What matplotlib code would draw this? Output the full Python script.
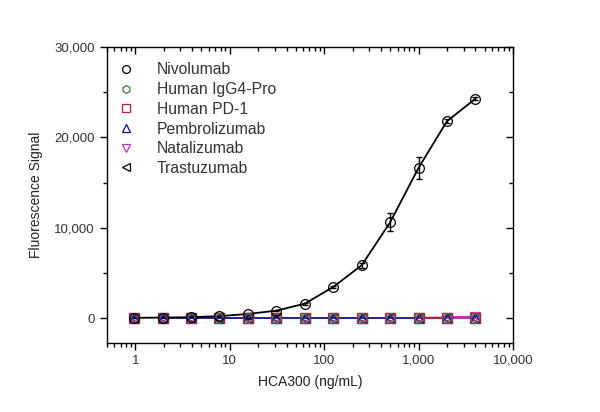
import matplotlib
matplotlib.use("Agg")
import matplotlib.pyplot as plt
from matplotlib.ticker import FuncFormatter, MultipleLocator, LogLocator, NullFormatter
import numpy as np

plt.rcParams["font.family"] = ["Liberation Sans", "DejaVu Sans"]

# concentrations (ng/mL), two-fold dilution series
conc = [0.98, 1.95, 3.9, 7.8, 15.6, 31.25, 62.5, 125, 250, 500, 1000, 2000, 4000]

nivolumab = [30, 60, 110, 220, 460, 830, 1600, 3450, 5850, 10600, 16630, 21790, 24270]
nivolumab_err = [20, 20, 30, 40, 60, 80, 120, 150, 250, 1000, 1200, 200, 150]
igg4_pro = [0, 0, 0, 0, 0, 0, 0, 0, 0, 0, 0, 0, 0]
human_pd1 = [0, 0, 0, 0, 0, 0, 0, 0, 0, 0, 30, 40, 60]
pembrolizumab = [0, 0, 0, 0, 0, 0, 0, 0, 0, 0, 0, 0, 0]
natalizumab = [0, 0, 0, 0, 0, 0, 0, 0, 0, 0, 20, 60, 100]
trastuzumab = [0, 0, 0, 0, 0, 0, 0, 0, 0, 0, 0, 0, 0]

series = [
    ("Nivolumab", nivolumab, "black", "o"),
    ("Human IgG4-Pro", igg4_pro, "#2e7d3a", "h"),
    ("Human PD-1", human_pd1, "#c02040", "s"),
    ("Pembrolizumab", pembrolizumab, "#10108a", "^"),
    ("Natalizumab", natalizumab, "#c030c0", "v"),
    ("Trastuzumab", trastuzumab, "black", "<"),
]
zorders = [6, 5.5, 4.5, 4.2, 4.1, 4.0]

fig = plt.figure(figsize=(6.0, 4.12), dpi=100)
ax = fig.add_axes([0.178, 0.1675, 0.677, 0.7185])

# baseline lines for the controls
ax.plot(conc[1:], pembrolizumab[1:], color="#10108a", linewidth=1.3, zorder=2)
ax.plot(conc[10:], human_pd1[10:], color="#c02040", linewidth=1.6, zorder=2.1)
ax.plot(conc[11:], natalizumab[11:], color="#c030c0", linewidth=2.0, zorder=2.2)

ax.errorbar(conc, nivolumab, yerr=nivolumab_err, color="black", linewidth=1.3,
            elinewidth=1.0, capsize=2.5, zorder=3, fmt="none")
ax.plot(conc, nivolumab, color="black", linewidth=1.3, zorder=3)

handles = []
for (name, vals, color, marker), z in zip(series, zorders):
    h = ax.plot(conc, vals, linestyle="none", marker=marker, markersize=7,
                markerfacecolor="none", markeredgecolor=color,
                markeredgewidth=0.9, label=name, zorder=z)[0]
    handles.append(h)

ax.set_xscale("log")
ax.set_xlim(0.5, 10000)
ax.set_ylim(-2750, 30000)

ax.xaxis.set_major_locator(LogLocator(base=10, numticks=10))
ax.xaxis.set_minor_locator(LogLocator(base=10, subs=np.arange(2, 10), numticks=10))
ax.xaxis.set_minor_formatter(NullFormatter())
ax.xaxis.set_major_formatter(FuncFormatter(lambda v, p: f"{v:,.0f}"))
ax.yaxis.set_major_locator(MultipleLocator(10000))
ax.yaxis.set_minor_locator(MultipleLocator(5000))
ax.yaxis.set_major_formatter(FuncFormatter(lambda v, p: f"{v:,.0f}"))

ax.tick_params(axis="both", which="major", direction="out", length=5, width=1,
               labelsize=9.5, labelcolor="#333333")
ax.tick_params(axis="both", which="minor", direction="out", length=3, width=1)
ax.tick_params(axis="x", which="both", top=True)
ax.tick_params(axis="y", which="both", right=True)

# mirrored ticks point inward on the top and right edges
for t in ax.xaxis.get_major_ticks() + ax.xaxis.get_minor_ticks():
    t.tick2line.set_marker(3)
for t in ax.yaxis.get_major_ticks() + ax.yaxis.get_minor_ticks():
    t.tick2line.set_marker(0)

for s in ax.spines.values():
    s.set_linewidth(1.0)

ax.set_xlabel("HCA300 (ng/mL)", fontsize=10, color="#222222", labelpad=6)
ax.set_ylabel("Fluorescence Signal", fontsize=10, color="#222222", labelpad=8)

ax.legend(handles=handles, loc="upper left", bbox_to_anchor=(0.0, 0.985),
          frameon=False, fontsize=11.3, handlelength=1.0, handletextpad=1.5,
          labelspacing=0.3, borderaxespad=0.3, labelcolor="#333333",
          markerscale=0.8)

fig.savefig("out.png", dpi=100)
